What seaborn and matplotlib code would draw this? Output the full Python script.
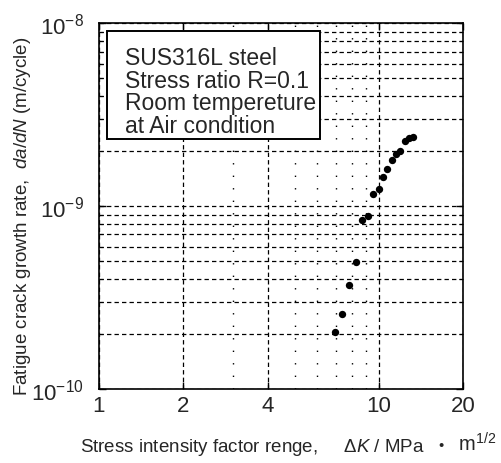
import matplotlib
matplotlib.use("Agg")
import matplotlib.pyplot as plt
import matplotlib.ticker as mticker
from matplotlib.patches import Rectangle
from matplotlib.offsetbox import TextArea, HPacker, AnnotationBbox
import numpy as np
import pandas as pd
import seaborn as sns

# data
delta_k = [6.98, 7.39, 7.80, 8.31, 8.73, 9.10, 9.53, 9.96, 10.32, 10.66,
           11.14, 11.54, 11.93, 12.43, 12.77, 13.17]
dadn = [2.06e-10, 2.57e-10, 3.71e-10, 4.92e-10, 8.41e-10, 8.81e-10, 1.17e-9,
        1.24e-9, 1.44e-9, 1.59e-9, 1.79e-9, 1.94e-9, 2.00e-9, 2.28e-9,
        2.35e-9, 2.40e-9]
x_ticks = [1, 2, 4, 10, 20]
x_minor = [3, 5, 6, 7, 8, 9]
y_ticks = [1e-10, 1e-9, 1e-8]
box_lines = ["SUS316L steel", "Stress ratio R=0.1", "Room tempereture", "at Air condition"]

sns.set_style("ticks")
plt.rcParams["font.family"] = ["Liberation Sans", "DejaVu Sans"]
plt.rcParams["mathtext.fontset"] = "custom"
plt.rcParams["mathtext.rm"] = "Liberation Sans"
plt.rcParams["mathtext.it"] = "Liberation Sans:italic"

df = pd.DataFrame({"dK": delta_k, "dadN": dadn})

fig = plt.figure(figsize=(5.02, 4.64), dpi=100)
ax = fig.add_axes([0.197, 0.1595, 0.726, 0.788])

ax.set_xscale("log")
ax.set_yscale("log")
ax.set_xlim(1, 20)
ax.set_ylim(1e-10, 1e-8)

sns.scatterplot(data=df, x="dK", y="dadN", ax=ax, color="black", s=28,
                edgecolor="black", linewidth=0, zorder=5)

ax.xaxis.set_major_locator(mticker.FixedLocator(x_ticks))
ax.xaxis.set_major_formatter(mticker.FixedFormatter([str(t) for t in x_ticks]))
ax.xaxis.set_minor_locator(mticker.FixedLocator(x_minor))
ax.xaxis.set_minor_formatter(mticker.NullFormatter())
y_minor = [m * t for t in y_ticks[:-1] for m in range(2, 10)]
ax.yaxis.set_major_locator(mticker.FixedLocator(y_ticks))
ax.yaxis.set_major_formatter(mticker.LogFormatterSciNotation())
ax.yaxis.set_minor_locator(mticker.FixedLocator(y_minor))
ax.yaxis.set_minor_formatter(mticker.NullFormatter())

dash = (0, (3.5, 2.5))
ax.grid(True, axis="x", which="major", color="black", linestyle=dash, linewidth=0.9)
ax.grid(True, axis="x", which="minor", color="black", linestyle=(0, (1, 8)), linewidth=1.0)
ax.grid(True, axis="y", which="both", color="black", linestyle=dash, linewidth=0.9)

ax.tick_params(which="both", direction="in", top=True, right=True, color="black")
ax.tick_params(which="major", length=5, width=1, labelsize=16)
ax.tick_params(axis="x", which="major", pad=4)
ax.tick_params(axis="y", which="major", pad=11)
ax.tick_params(which="minor", length=3, width=0.8)
ax.tick_params(axis="x", which="minor", length=0)
for sp in ax.spines.values():
    sp.set_linewidth(1.2)
    sp.set_color("black")

ax.set_xlabel("")
ax.set_ylabel("")

# note box in the upper left
ax.add_patch(Rectangle((0.022, 0.684), 0.584, 0.295, transform=ax.transAxes,
                       facecolor="white", edgecolor="black", linewidth=1.4, zorder=9))
for i, line in enumerate(box_lines):
    ax.text(0.071, 0.889 - i * 0.062, line, transform=ax.transAxes, fontsize=16.5,
            ha="left", va="baseline", zorder=10)

fig.text(0.044, 1 - 216 / 464, "Fatigue crack growth rate,  $\\mathit{da/dN}$ (m/cycle)",
         rotation=90, ha="center", va="center", fontsize=13.5)

parts = [
    TextArea("Stress intensity factor renge,     $\\mathit{\u0394K}$ / MPa",
             textprops=dict(fontsize=13.5)),
    TextArea(" \u30fb", textprops=dict(fontsize=13.5, family=["Noto Sans CJK JP", "DejaVu Sans"])),
    TextArea(" m$^{1/2}$", textprops=dict(fontsize=14.5)),
]
xlab = HPacker(children=parts, align="baseline", pad=0, sep=2)
fig.add_artist(AnnotationBbox(xlab, (80 / 502, 1 - 445 / 464), xycoords="figure fraction",
                              box_alignment=(0, 0.5), frameon=False, pad=0))

fig.savefig("out.png", dpi=100)
